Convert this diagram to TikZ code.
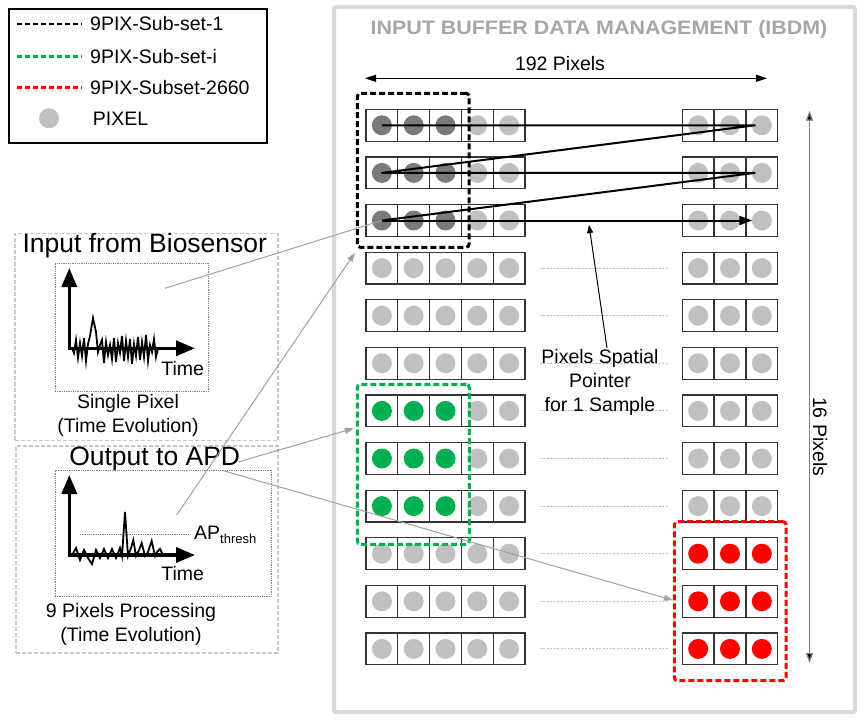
\documentclass[tikz,border=0pt]{standalone}
\usepackage{fontspec}
\setmainfont{Liberation Sans}
\usetikzlibrary{arrows.meta,calc}
\definecolor{pixdark}{HTML}{7A7A7A}
\definecolor{pixlight}{HTML}{C0C0C0}
\definecolor{pixgreen}{HTML}{00B050}
\definecolor{pixred}{HTML}{FF0000}
\definecolor{cellborder}{HTML}{333333}
\definecolor{ibdmgray}{HTML}{D9D9D9}
\definecolor{titlegray}{HTML}{A6A6A6}
\definecolor{conngray}{HTML}{A0A0A0}
\definecolor{panelgray}{HTML}{C8C8C8}
\begin{document}
\begin{tikzpicture}[x=1pt,y=-1pt,
  txt/.style={font=\fontsize{19.5}{24.3}\selectfont, inner sep=0pt, align=center},
  bigtxt/.style={font=\fontsize{26.5}{30}\selectfont, inner sep=0pt},
  cell/.style={draw=cellborder, line width=1.3pt, minimum size=31.8pt, inner sep=0pt,
    path picture={\fill[#1] (path picture bounding box.center) circle (10pt);}},
  subbox/.style={draw=#1, line width=3pt, dash pattern=on 6pt off 3pt, rounded corners=3pt, inner sep=0pt},
  panel/.style={draw=panelgray, line width=1.5pt, dash pattern=on 4pt off 2pt, inner sep=0pt},
  graphbox/.style={draw=gray, line width=0.8pt, densely dotted, inner sep=0pt},
  axisarrow/.style={line width=3.5pt, arrows={Triangle[length=19pt,width=15pt]-Triangle[length=19pt,width=15pt]}},
  sig/.style={line width=1.8pt, line join=miter},
  conn/.style={draw=conngray, line width=1pt},
  conntip/.style={-{Triangle[length=9pt,width=6pt,fill=conngray]}},
  ptr/.style={line width=2pt, line join=round},
  dotline/.style={draw=pixlight, line width=1pt, dash pattern=on 2pt off 1.5pt},
  legline/.style={line width=2.5pt, dash pattern=on 5pt off 3pt},
  dimarrow/.style={line width=1pt, arrows={Triangle[length=11pt,width=7pt]-Triangle[length=11pt,width=7pt]}}
]
\useasboundingbox (0,0) rectangle (866,722);

% ---------- IBDM frame ----------
\draw[draw=ibdmgray, line width=4pt, rounded corners=2pt] (334,7) rectangle (855,712);
\node[inner sep=0pt, text=titlegray] (ibdmtitle) at (599,29)
  {\scalebox{1.1}[1]{\fontsize{19.5}{21}\selectfont\bfseries INPUT BUFFER DATA MANAGEMENT (IBDM)}};

% ---------- legend ----------
\draw[line width=1.5pt] (9,9) rectangle (267,143);
\draw[legline, black] (17,24) -- (82,24);
\draw[legline, pixgreen] (17,56.7) -- (82,56.7);
\draw[legline, pixred] (17,87.3) -- (82,87.3);
\node[circle, fill=pixlight, minimum size=20pt, inner sep=0pt] (legpix) at (49,118.3) {};
\node[txt, anchor=west] (leg1) at (90,24) {9PIX-Sub-set-1};
\node[txt, anchor=west] (leg2) at (90,56.7) {9PIX-Sub-set-i};
\node[txt, anchor=west] (leg3) at (90,87.3) {9PIX-Subset-2660};
\node[txt, anchor=west] (leg4) at (92.7,118.3) {PIXEL};

% ---------- pixel grid ----------
\foreach \i in {1,...,12} {
  \pgfmathsetmacro\yc{125.3+(\i-1)*47.6}
  \foreach \j in {1,...,5} {
    \pgfmathsetmacro\xc{381.9+(\j-1)*31.8}
    \def\col{pixlight}
    \ifnum\j<4
      \ifnum\i<4 \def\col{pixdark}\fi
      \ifnum\i>6 \ifnum\i<10 \def\col{pixgreen}\fi\fi
    \fi
    \node[cell=\col] (L-\i-\j) at (\xc,\yc) {};
  }
  \foreach \k in {1,2,3} {
    \pgfmathsetmacro\xc{698.2+(\k-1)*31.8}
    \def\col{pixlight}
    \ifnum\i>9 \def\col{pixred}\fi
    \node[cell=\col] (R-\i-\k) at (\xc,\yc) {};
  }
}
\foreach \i in {4,...,12} {
  \draw[dotline] ($(L-\i-5.east)+(14,0)$) -- ($(R-\i-1.west)+(-14,0)$);
}

% ---------- subset boxes ----------
\node[subbox=black, minimum width=111.7pt, minimum height=154pt] (sub1) at (413.2,170.3) {};
\node[subbox=pixgreen, minimum width=112pt, minimum height=160pt] (sub2) at (413.3,464.3) {};
\node[subbox=pixred, minimum width=111.7pt, minimum height=159pt] (sub3) at (730.2,601.2) {};

% ---------- dimension arrows ----------
\coordinate (w1) at (365,78.3);
\coordinate (w2) at (767,78.3);
\draw[dimarrow] (w1) -- (w2);
\node[txt] (wlabel) at (560,64) {192 Pixels};
\coordinate (h1) at (809.5,110.7);
\coordinate (h2) at (809.5,663);
\draw[line width=1.2pt, draw=gray, arrows={Triangle[length=10pt,width=7pt,fill=black]-Triangle[length=10pt,width=7pt,fill=black]}] (h1) -- (h2);
\node[txt, rotate=-90] (hlabel) at (820,436.7) {16 Pixels};

% ---------- spatial pointer ----------
\draw[ptr] (L-1-1.center) -- ($(R-1-3.center)+(-7,0)$) -- (L-2-1.center) -- ($(R-2-3.center)+(-7,0)$) -- (L-3-1.center);
\draw[ptr, -{Triangle[length=13pt,width=9pt]}] (L-3-1.center) -- ($(R-3-3.center)+(-9.5,0)$);
\node[txt] (ptrtxt) at (600,382.5) {Pixels Spatial\\Pointer\\for 1 Sample};
\coordinate (ptrtip) at (589,225);
\draw[line width=1pt, -{Triangle[length=8pt,width=6pt]}] ($(ptrtxt.north)+(7,-1)$) -- (ptrtip);

% ---------- left panel 1 ----------
\node[panel, minimum width=263pt, minimum height=207.4pt] (panel1) at (146.5,337) {};
\node[bigtxt] (inTitle) at (144.8,246) {Input from Biosensor};
\node[graphbox, minimum width=153.3pt, minimum height=128.4pt] (gbox1) at (131.7,327.5) {};
\draw[axisarrow] (69.3,268) -- (69.3,348.3) -- (195,348.3);
\draw[sig] plot coordinates {(72,348) (74,353) (76,340) (78,358) (80,343) (82,356) (84,338) (86,361) (88,344) (90,336) (93,318) (96,332) (98,352) (100,345) (102,340) (104,363) (106,342) (108,355) (110,345) (112,359) (114,338) (116,362) (118,343) (120,353) (122,336) (124,361) (126,341) (128,357) (130,339) (132,364) (134,344) (136,356) (138,337) (140,360) (142,342) (144,357) (146,335) (148,361) (150,345) (152,352) (154,339) (156,357) (158,348)};
\node[txt] (time1) at (182.7,368.3) {Time};
\node[txt] (cap1) at (128,415.3) {Single Pixel\\(Time Evolution)};
\coordinate (g1src) at (165,288.3);

% ---------- left panel 2 ----------
\node[panel, minimum width=262pt, minimum height=207pt] (panel2) at (147,549.5) {};
\node[bigtxt] (outTitle) at (154.7,459.3) {Output to APD};
\node[graphbox, minimum width=216pt, minimum height=126pt] (gbox2) at (163,533.7) {};
\draw[gray, line width=0.8pt, densely dotted] (80,534.3) -- (188.3,534.3);
\draw[axisarrow] (69.3,475) -- (69.3,555) -- (195,555);
\draw[sig] plot coordinates {(72,555) (76,548) (80,560) (84,550) (88,558) (92,564) (96,550) (100,558) (104,549) (108,558) (112,549) (116,558) (120,548) (122,556) (125,512) (128,556) (131,548) (133.3,540) (136,556) (139,550) (141.7,543) (145,556) (148,552) (151.7,541) (155,556) (157,552) (160,549) (163,555)};
\node[txt, anchor=west] (thresh) at (194,535) {AP\raisebox{-4pt}{\fontsize{13}{13}\selectfont thresh}};
\node[txt] (time2) at (182.7,573.3) {Time};
\node[txt] (cap2) at (131,624.2) {9 Pixels Processing\\(Time Evolution)};
\coordinate (g2src) at (176.7,515);
\coordinate (apdsrc) at (238,462);
\coordinate (g2top) at (223.3,470.7);

% ---------- connectors ----------
\draw[conn] (g1src) -- (L-3-1.center);
\draw[conn, conntip] (g2src) -- ($(sub1.south west)+(-1,4)$);
\draw[conn, conntip] (apdsrc) -- ($(sub2.west)+(-2,-36)$);
\draw[conn, conntip] (g2top) -- ($(sub3.west)+(0,-1)$);
\end{tikzpicture}
\end{document}
